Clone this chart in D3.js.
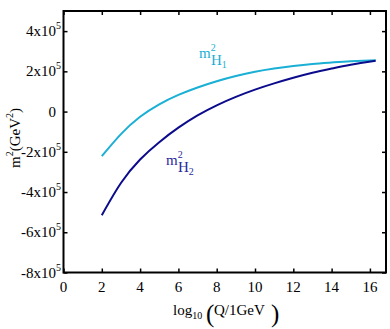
<!DOCTYPE html>
<html>
<head>
<meta charset="utf-8">
<script src="https://cdn.jsdelivr.net/npm/d3@7"></script>
<style>
  body { margin: 0; background: #fff; }
  svg { display: block; }
  text { font-family: "Liberation Serif", "DejaVu Serif", serif; }
</style>
</head>
<body>
<svg id="graph" width="390" height="329"></svg>
<script>
// log10(Q/1GeV) sample points
var logQ = [2, 3, 4, 5, 6, 7, 8, 9, 10, 11, 12, 13, 14, 15, 16.3];
// m^2 in units of 1e5 GeV^2
var mH1 = [-2.22, -1.12, -0.26, 0.36, 0.83, 1.20, 1.51, 1.77, 1.98, 2.14, 2.27, 2.37, 2.44, 2.50, 2.55];
var mH2 = [-5.15, -3.55, -2.38, -1.52, -0.80, -0.19, 0.31, 0.73, 1.09, 1.40, 1.68, 1.93, 2.14, 2.33, 2.53];
var xTicks = [0, 2, 4, 6, 8, 10, 12, 14, 16];
var yTicks = [-8, -6, -4, -2, 0, 2, 4];

var svg = d3.select("#graph");
var pLeft = 63.5, pRight = 386, pTop = 11, pBottom = 272.5;

var x = d3.scaleLinear().domain([0, 16.84]).range([pLeft, pRight]);
var y = d3.scaleLinear().domain([-8, 5]).range([pBottom, pTop]);

// frame
svg.append("rect")
    .attr("x", pLeft).attr("y", pTop)
    .attr("width", pRight - pLeft).attr("height", pBottom - pTop)
    .attr("fill", "none").attr("stroke", "#000").attr("stroke-width", 2);

// ticks, pointing inward on all four sides
var tl = 4;
svg.append("g").attr("transform", "translate(0," + pBottom + ")")
    .call(d3.axisTop(x).tickValues(xTicks).tickSize(tl).tickFormat(""));
svg.append("g").attr("transform", "translate(0," + pTop + ")")
    .call(d3.axisBottom(x).tickValues(xTicks).tickSize(tl).tickFormat(""));
svg.append("g").attr("transform", "translate(" + pLeft + ",0)")
    .call(d3.axisRight(y).tickValues(yTicks).tickSize(tl).tickFormat(""));
svg.append("g").attr("transform", "translate(" + pRight + ",0)")
    .call(d3.axisLeft(y).tickValues(yTicks).tickSize(tl).tickFormat(""));
svg.selectAll(".domain").remove();
svg.selectAll(".tick line").attr("stroke", "#000").attr("stroke-width", 1.5);

// x tick labels
svg.selectAll(".xlab").data(xTicks).enter().append("text")
    .attr("x", function(d){ return x(d); })
    .attr("y", 292)
    .attr("text-anchor", "middle")
    .attr("font-size", 15)
    .text(function(d){ return d; });

// y tick labels
yTicks.forEach(function(d){
    var t = svg.append("text")
        .attr("x", 61)
        .attr("y", y(d) + 5)
        .attr("text-anchor", "end")
        .attr("font-size", 15);
    if (d === 0) {
        t.attr("x", 56).text("0");
    } else {
        t.append("tspan").text(d + "x10");
        t.append("tspan").attr("dy", -7).attr("font-size", 10).text("5");
    }
});

// axis titles
var xt = svg.append("text").attr("font-size", 15).attr("y", 315);
xt.append("tspan").attr("x", 173).text("log");
xt.append("tspan").attr("dy", 4).attr("font-size", 10).text("10");
svg.append("text").attr("x", 206).attr("y", 322).attr("font-size", 25).text("(");
svg.append("text").attr("x", 214).attr("y", 315).attr("font-size", 15).text("Q/1GeV");
svg.append("text").attr("x", 271).attr("y", 322).attr("font-size", 25).text(")");

var yt = svg.append("text")
    .attr("transform", "translate(20,138) rotate(-90)")
    .attr("text-anchor", "middle")
    .attr("font-size", 15);
yt.append("tspan").text("m");
yt.append("tspan").attr("dy", -7).attr("font-size", 10).text("2");
yt.append("tspan").attr("dy", 7).text("(GeV");
yt.append("tspan").attr("dy", -7).attr("font-size", 10).text("2");
yt.append("tspan").attr("dy", 7).text(")");

// curves
var line = d3.line()
    .x(function(d){ return x(d[0]); })
    .y(function(d){ return y(d[1]); })
    .curve(d3.curveNatural);

var colH1 = "#1aafd5", colH2 = "#0b0b8c";

svg.append("path")
    .datum(d3.zip(logQ, mH1))
    .attr("d", line)
    .attr("fill", "none").attr("stroke", colH1).attr("stroke-width", 2);
svg.append("path")
    .datum(d3.zip(logQ, mH2))
    .attr("d", line)
    .attr("fill", "none").attr("stroke", colH2).attr("stroke-width", 2);

// curve labels
function curveLabel(px, py, sub, col) {
    var t = svg.append("text").attr("x", px).attr("y", py)
        .attr("font-size", 15).attr("fill", col);
    t.append("tspan").text("m");
    t.append("tspan").attr("dy", -7).attr("font-size", 10).text("2");
    t.append("tspan").attr("x", px + 12).attr("dy", 14).text("H");
    t.append("tspan").attr("dy", 3).attr("font-size", 10).text(sub);
}
curveLabel(199, 58, "1", colH1);
curveLabel(166, 165, "2", "#2a2a9c");
</script>
</body>
</html>
